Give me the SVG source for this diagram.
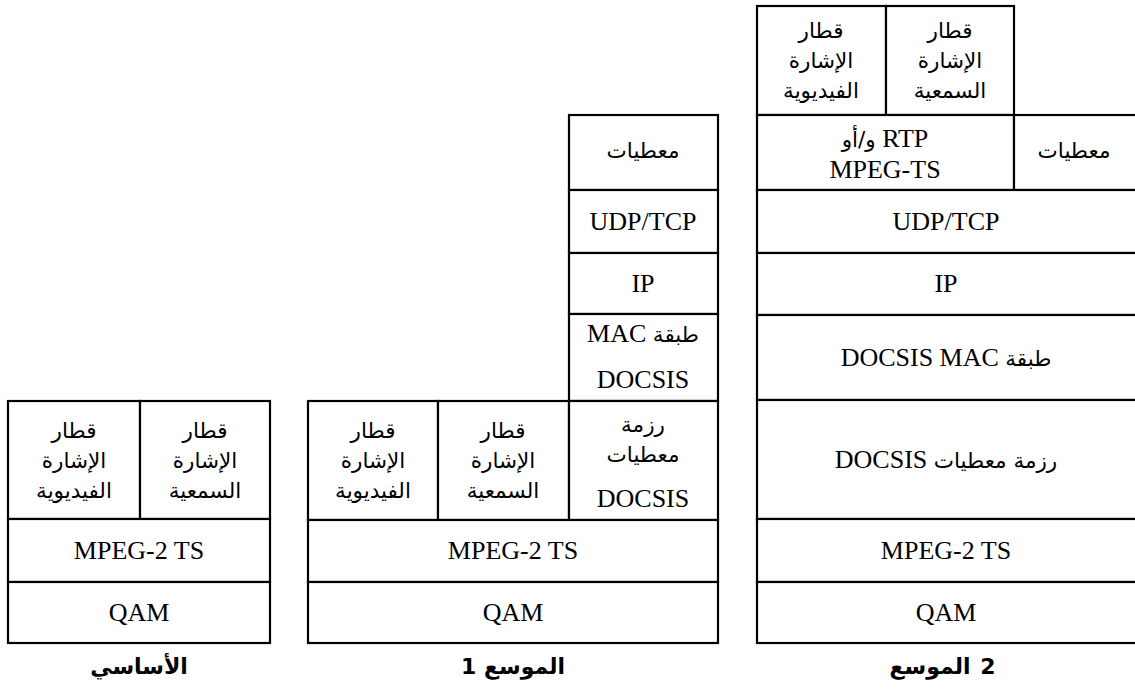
<svg xmlns="http://www.w3.org/2000/svg" width="1135" height="689" viewBox="0 0 1135 689">
<style>
.b{fill:#fff;stroke:#000;stroke-width:2.2}
.t{font-family:'Liberation Serif','Times New Roman',serif;font-size:26px;fill:#000;text-anchor:middle}
.a{font-family:'DejaVu Sans',sans-serif;font-size:21.5px;fill:#000;text-anchor:middle}
.l{font-family:'DejaVu Sans',sans-serif;font-size:22px;font-weight:bold;fill:#000;text-anchor:middle}
.ar{font-family:'DejaVu Sans',sans-serif;font-size:21.5px}
</style>
<rect width="1135" height="689" fill="#fff"/>
<g id="connectors"/>
<g id="base-video"><rect class="b" x="8" y="401" width="132" height="118"/>
<text class="a" x="74" y="438">قطار</text><text class="a" x="74" y="468">الإشارة</text><text class="a" x="74" y="498">الفيديوية</text></g>
<g id="base-audio"><rect class="b" x="140" y="401" width="130" height="118"/>
<text class="a" x="205" y="438">قطار</text><text class="a" x="205" y="468">الإشارة</text><text class="a" x="205" y="498">السمعية</text></g>
<g id="base-mpeg"><rect class="b" x="8" y="519" width="262" height="63"/><text class="t" x="139" y="559">MPEG-2 TS</text></g>
<g id="base-qam"><rect class="b" x="8" y="582" width="262" height="61"/><text class="t" x="139" y="621">QAM</text></g>
<g id="base-label"><text class="l" x="139" y="674" direction="rtl">الأساسي</text></g>
<g id="ext1-data"><rect class="b" x="569" y="115" width="149" height="75"/><text class="a" x="643" y="158">معطيات</text></g>
<g id="ext1-udp"><rect class="b" x="569" y="190" width="149" height="63"/><text class="t" x="643" y="230">UDP/TCP</text></g>
<g id="ext1-ip"><rect class="b" x="569" y="253" width="149" height="61"/><text class="t" x="643" y="292">IP</text></g>
<g id="ext1-mac"><rect class="b" x="569" y="314" width="149" height="87"/>
<text class="t" x="643" y="342" direction="rtl"><tspan class="ar">طبقة</tspan> MAC</text><text class="t" x="643" y="388">DOCSIS</text></g>
<g id="ext1-video"><rect class="b" x="308" y="401" width="130" height="119"/>
<text class="a" x="373" y="438">قطار</text><text class="a" x="373" y="468">الإشارة</text><text class="a" x="373" y="498">الفيديوية</text></g>
<g id="ext1-audio"><rect class="b" x="438" y="401" width="131" height="119"/>
<text class="a" x="503" y="438">قطار</text><text class="a" x="503" y="468">الإشارة</text><text class="a" x="503" y="498">السمعية</text></g>
<g id="ext1-pkt"><rect class="b" x="569" y="401" width="149" height="119"/>
<text class="a" x="643" y="432">رزمة</text><text class="a" x="643" y="462">معطيات</text><text class="t" x="643" y="507">DOCSIS</text></g>
<g id="ext1-mpeg"><rect class="b" x="308" y="520" width="410" height="62"/><text class="t" x="513" y="559">MPEG-2 TS</text></g>
<g id="ext1-qam"><rect class="b" x="308" y="582" width="410" height="61"/><text class="t" x="513" y="621">QAM</text></g>
<g id="ext1-label"><text class="l" x="513" y="674" direction="rtl">الموسع 1</text></g>
<g id="ext2-video"><rect class="b" x="757" y="6" width="129" height="109"/>
<text class="a" x="821" y="38">قطار</text><text class="a" x="821" y="68">الإشارة</text><text class="a" x="821" y="98">الفيديوية</text></g>
<g id="ext2-audio"><rect class="b" x="886" y="6" width="128" height="109"/>
<text class="a" x="950" y="38">قطار</text><text class="a" x="950" y="68">الإشارة</text><text class="a" x="950" y="98">السمعية</text></g>
<g id="ext2-rtp"><rect class="b" x="757" y="115" width="257" height="75"/>
<text class="t" x="885" y="147" direction="rtl">RTP <tspan class="ar">و/أو</tspan></text><text class="t" x="885" y="178">MPEG-TS</text></g>
<g id="ext2-data"><rect class="b" x="1014" y="115" width="125" height="75"/><text class="a" x="1074" y="158">معطيات</text></g>
<g id="ext2-udp"><rect class="b" x="757" y="190" width="382" height="63"/><text class="t" x="946" y="230">UDP/TCP</text></g>
<g id="ext2-ip"><rect class="b" x="757" y="253" width="382" height="62"/><text class="t" x="946" y="292">IP</text></g>
<g id="ext2-mac"><rect class="b" x="757" y="315" width="382" height="85"/><text class="t" x="946" y="366" direction="rtl"><tspan class="ar">طبقة</tspan> DOCSIS MAC</text></g>
<g id="ext2-pkt"><rect class="b" x="757" y="400" width="382" height="119"/><text class="t" x="946" y="468" direction="rtl"><tspan class="ar">رزمة معطيات</tspan> DOCSIS</text></g>
<g id="ext2-mpeg"><rect class="b" x="757" y="519" width="382" height="63"/><text class="t" x="946" y="559">MPEG-2 TS</text></g>
<g id="ext2-qam"><rect class="b" x="757" y="582" width="382" height="61"/><text class="t" x="946" y="621">QAM</text></g>
<g id="ext2-label"><text class="l" y="674"><tspan x="930">الموسع</tspan><tspan x="988">2</tspan></text></g>
</svg>
